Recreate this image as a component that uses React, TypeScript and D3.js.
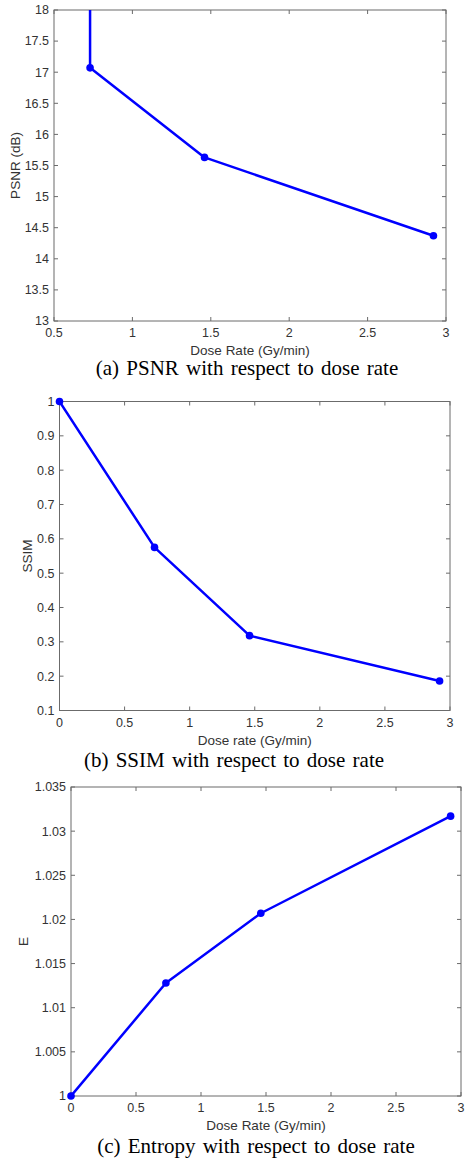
import React from "react";
import * as d3 from "d3";

// ---------- data ----------
const doseRates = [0, 0.73, 1.46, 2.92];
// PSNR at dose 0 is unbounded (drawn as a vertical line leaving the top of the axes)
const psnrDose = [0.73, 0.73, 1.46, 2.92];
const psnrValues = [40, 17.07, 15.63, 14.37];
const ssimValues = [1.0, 0.575, 0.318, 0.186];
const entropyValues = [1.0, 1.0128, 1.0207, 1.0317];

const psnrXTicks = [0.5, 1, 1.5, 2, 2.5, 3];
const psnrYTicks = [13, 13.5, 14, 14.5, 15, 15.5, 16, 16.5, 17, 17.5, 18];
const ssimXTicks = [0, 0.5, 1, 1.5, 2, 2.5, 3];
const ssimYTicks = [0.1, 0.2, 0.3, 0.4, 0.5, 0.6, 0.7, 0.8, 0.9, 1];
const entXTicks = [0, 0.5, 1, 1.5, 2, 2.5, 3];
const entYTicks = [1, 1.005, 1.01, 1.015, 1.02, 1.025, 1.03, 1.035];

const SANS = "'Liberation Sans', Arial, Helvetica, sans-serif";
const SERIF = "'Liberation Serif', 'Times New Roman', serif";
const BLUE = "#0000ff";
const AXIS = "#6b6b6b";
const TXT = "#333333";

type PanelProps = {
  id: string;
  xs: number[];
  ys: number[];
  xDomain: [number, number];
  yDomain: [number, number];
  xTicks: number[];
  yTicks: number[];
  box: { l: number; r: number; t: number; b: number };
  xLabel: string;
  yLabel: string;
  yLabelX: number;
  caption: string;
  captionX: number;
  captionY: number;
};

function Panel(p: PanelProps) {
  const x = d3.scaleLinear().domain(p.xDomain).range([p.box.l, p.box.r]);
  const y = d3.scaleLinear().domain(p.yDomain).range([p.box.b, p.box.t]);
  const pts = p.xs.map((v, i) => [v, p.ys[i]] as [number, number]);
  const line = d3
    .line<[number, number]>()
    .x((d) => x(d[0]))
    .y((d) => y(d[1]));
  const tl = 4;
  const fmt = (v: number) => String(+v.toFixed(4));
  const cx = (p.box.l + p.box.r) / 2;
  const cy = (p.box.t + p.box.b) / 2;
  return (
    <g>
      <defs>
        <clipPath id={p.id}>
          <rect x={p.box.l} y={p.box.t} width={p.box.r - p.box.l} height={p.box.b - p.box.t} />
        </clipPath>
      </defs>
      <rect x={p.box.l} y={p.box.t} width={p.box.r - p.box.l} height={p.box.b - p.box.t} fill="white" stroke={AXIS} strokeWidth={1} />
      {p.xTicks.map((t) => (
        <g key={"x" + t}>
          <line x1={x(t)} x2={x(t)} y1={p.box.b} y2={p.box.b - tl} stroke={AXIS} />
          <line x1={x(t)} x2={x(t)} y1={p.box.t} y2={p.box.t + tl} stroke={AXIS} />
          <text x={x(t)} y={p.box.b + 16} textAnchor="middle" fontFamily={SANS} fontSize={12.5} fill={TXT}>
            {fmt(t)}
          </text>
        </g>
      ))}
      {p.yTicks.map((t) => (
        <g key={"y" + t}>
          <line x1={p.box.l} x2={p.box.l + tl} y1={y(t)} y2={y(t)} stroke={AXIS} />
          <line x1={p.box.r} x2={p.box.r - tl} y1={y(t)} y2={y(t)} stroke={AXIS} />
          <text x={p.box.l - 5} y={y(t)} dy="0.35em" textAnchor="end" fontFamily={SANS} fontSize={12.5} fill={TXT}>
            {fmt(t)}
          </text>
        </g>
      ))}
      <text x={cx} y={p.box.b + 34} textAnchor="middle" fontFamily={SANS} fontSize={13.5} fill={TXT}>
        {p.xLabel}
      </text>
      <text
        transform={`translate(${p.yLabelX},${cy}) rotate(-90)`}
        textAnchor="middle"
        dy="0.35em"
        fontFamily={SANS}
        fontSize={13.5}
        fill={TXT}
      >
        {p.yLabel}
      </text>
      <g clipPath={`url(#${p.id})`}>
        <path d={line(pts) || ""} fill="none" stroke={BLUE} strokeWidth={2.5} strokeLinejoin="round" />
      </g>
      {pts
        .filter((d) => d[1] >= p.yDomain[0] && d[1] <= p.yDomain[1] && d[0] >= p.xDomain[0] && d[0] <= p.xDomain[1])
        .map((d, i) => (
          <circle key={i} cx={x(d[0])} cy={y(d[1])} r={3.8} fill={BLUE} />
        ))}
      <text x={p.captionX} y={p.captionY} textAnchor="middle" fontFamily={SERIF} fontSize={21} fill="#000" style={{ wordSpacing: "2px" }}>
        {p.caption}
      </text>
    </g>
  );
}

export default function App() {
  return (
    <svg width={466} height={1160} style={{ position: "absolute", left: 0, top: 0, background: "white" }}>
      <rect width={466} height={1160} fill="white" />
      <Panel
        id="clipA"
        xs={psnrDose}
        ys={psnrValues}
        xDomain={[0.5, 3]}
        yDomain={[13, 18]}
        xTicks={psnrXTicks}
        yTicks={psnrYTicks}
        box={{ l: 54, r: 446, t: 10, b: 321 }}
        xLabel="Dose Rate (Gy/min)"
        yLabel="PSNR (dB)"
        yLabelX={15}
        caption="(a)  PSNR with respect to dose rate"
        captionX={247}
        captionY={375}
      />
      <Panel
        id="clipB"
        xs={doseRates}
        ys={ssimValues}
        xDomain={[0, 3]}
        yDomain={[0.1, 1]}
        xTicks={ssimXTicks}
        yTicks={ssimYTicks}
        box={{ l: 59.5, r: 450, t: 401.5, b: 710.5 }}
        xLabel="Dose rate (Gy/min)"
        yLabel="SSIM"
        yLabelX={27}
        caption="(b)  SSIM with respect to dose rate"
        captionX={234}
        captionY={767}
      />
      <Panel
        id="clipC"
        xs={doseRates}
        ys={entropyValues}
        xDomain={[0, 3]}
        yDomain={[1, 1.035]}
        xTicks={entXTicks}
        yTicks={entYTicks}
        box={{ l: 71, r: 461, t: 787, b: 1096 }}
        xLabel="Dose Rate (Gy/min)"
        yLabel="E"
        yLabelX={23}
        caption="(c)  Entropy with respect to dose rate"
        captionX={256}
        captionY={1153}
      />
    </svg>
  );
}
